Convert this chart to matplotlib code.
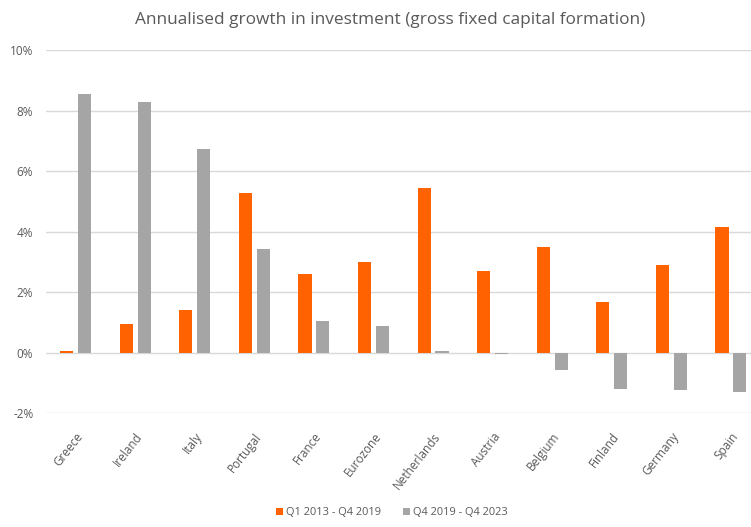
import numpy as np
import matplotlib.pyplot as plt
from matplotlib.ticker import FuncFormatter

# Annualised GFCF growth, %
countries = ['Greece', 'Ireland', 'Italy', 'Portugal', 'France', 'Eurozone',
             'Netherlands', 'Austria', 'Belgium', 'Finland', 'Germany', 'Spain']
pre_covid = [0.05, 0.96, 1.42, 5.28, 2.61, 3.00, 5.45, 2.70, 3.50, 1.68, 2.90, 4.16]
post_covid = [8.55, 8.28, 6.73, 3.43, 1.06, 0.89, 0.05, -0.05, -0.57, -1.18, -1.24, -1.30]
series_names = ['Q1 2013 - Q4 2019', 'Q4 2019 - Q4 2023']

orange = '#FF6200'
grey = '#A5A5A5'
txt = '#595959'

plt.rcParams['font.family'] = ['Open Sans', 'DejaVu Sans']

fig = plt.figure(figsize=(7.51, 5.27), dpi=100)
ax = fig.add_axes([0.061, 0.2154, 0.952, 0.6897])

x = np.arange(len(countries))
w = 0.22
ax.bar(x - 0.15, pre_covid, w, color=orange, label=series_names[0], zorder=3)
ax.bar(x + 0.15, post_covid, w, color=grey, label=series_names[1], zorder=3)

ax.set_xlim(-0.5, len(countries) - 0.5)
ax.set_ylim(-2, 10)
ax.set_yticks(np.arange(-2, 11, 2))
ax.yaxis.set_major_formatter(FuncFormatter(lambda v, p: f'{v:.0f}%'))
ax.grid(axis='y', color='#D9D9D9', linewidth=1, zorder=0)
for s in ax.spines.values():
    s.set_visible(False)
ax.tick_params(length=0, colors=txt, labelsize=8.5)
ax.tick_params(axis='y', pad=9)
ax.tick_params(axis='x', pad=12)
ax.set_xticks(x)
ax.set_xticklabels(countries, rotation=52, ha='right', rotation_mode='anchor')

fig.suptitle('Annualised growth in investment (gross fixed capital formation)',
             x=0.519, y=0.978, fontsize=12.4, color=txt)

fig.legend(loc='lower center', bbox_to_anchor=(0.522, -0.002), ncol=2, frameon=False,
           fontsize=7.9, labelcolor=txt, handlelength=0.6, handleheight=0.6,
           handletextpad=0.3, columnspacing=2.0)

plt.savefig('out.png', dpi=100)
